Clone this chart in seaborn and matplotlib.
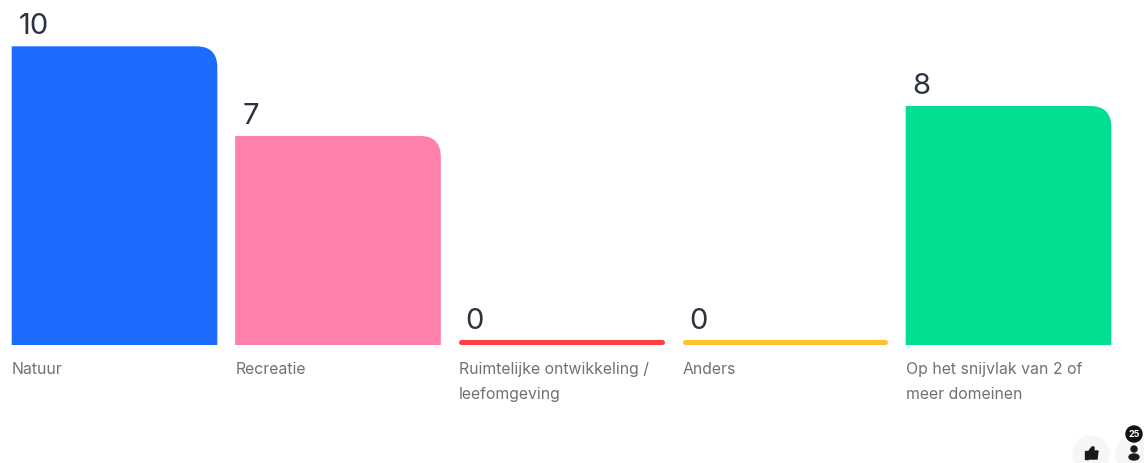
import pandas as pd
import matplotlib.pyplot as plt
import seaborn as sns
from matplotlib.path import Path
from matplotlib.patches import PathPatch, Circle, Ellipse, Polygon, Rectangle
from matplotlib.transforms import IdentityTransform, offset_copy

sns.set_theme(style="white")
plt.rcParams['font.family'] = ['Inter', 'DejaVu Sans']

categorias = ['Natuur', 'Recreatie', 'Ruimtelijke ontwikkeling /\nleefomgeving', 'Anders',
              'Op het snijvlak van 2 of\nmeer domeinen']
valores = [10, 7, 0, 0, 8]
colores = ['#1e6bff', '#ff80ab', '#ff3f40', '#ffc130', '#00df90']
respuestas = '25'

ANCHO, ALTO = 1144, 463
PX_X = 223.5    # pixeles entre categorias
PX_Y = 29.87    # pixeles por unidad
BASE = 345      # linea base en pixeles desde arriba
RADIO = 21


def px(x, y):
    # pixeles de la imagen (origen arriba) a pixeles de la figura
    return x, ALTO - y


df = pd.DataFrame({'categoria': categorias, 'valor': valores})

fig = plt.figure(figsize=(ANCHO / 100, ALTO / 100), dpi=100)
ax = fig.add_axes([0, 0, 1, 1])
sns.barplot(data=df, x='categoria', y='valor', hue='categoria', palette=colores,
            width=0.92, legend=False, saturation=1, ax=ax)

ax.set_xlim(-114.5 / PX_X, (ANCHO - 114.5) / PX_X)
ax.set_ylim(-(ALTO - BASE) / PX_Y, BASE / PX_Y)
ax.axis('off')

# Sustituir las barras por versiones con la esquina superior derecha redondeada
rx, ry = RADIO / PX_X, RADIO / PX_Y
linea = offset_copy(ax.transData, fig=fig, y=3.5, units='dots')
for barra, valor, nombre in zip(list(ax.patches), valores, categorias):
    x0, w, color = barra.get_x(), barra.get_width(), barra.get_facecolor()
    barra.remove()
    if valor > 0:
        x1 = x0 + w
        verts = [(x0, 0), (x0, valor), (x1 - rx, valor), (x1, valor), (x1, valor - ry), (x1, 0), (x0, 0)]
        codes = [Path.MOVETO, Path.LINETO, Path.LINETO, Path.CURVE3, Path.CURVE3, Path.LINETO, Path.CLOSEPOLY]
        ax.add_patch(PathPatch(Path(verts, codes), facecolor=color, edgecolor='none'))
    else:
        ax.plot([x0 + 2.5 / PX_X, x0 + w - 2.5 / PX_X], [valor, valor], color=color, lw=3.6,
                solid_capstyle='round', transform=linea)

    alto_barra = 4 if valor == 0 else 0
    ax.annotate(str(valor), (x0, valor), xytext=(7, 6 + alto_barra), textcoords='offset pixels',
                fontsize=21, color='#2d3142', ha='left', va='bottom')
    ax.annotate(nombre, (x0, 0), xytext=(0, -17), textcoords='offset pixels', fontsize=11.4,
                color='#6f7177', ha='left', va='top', linespacing=1.82)

# Iconos de la esquina inferior derecha
t = IdentityTransform()
fig.add_artist(Circle(px(1091, 454), 18, transform=t, color='#f6f6f6'))
fig.add_artist(Circle(px(1134, 454), 18, transform=t, color='#f6f6f6'))
fig.add_artist(Rectangle(px(1085, 459), 3, 8, transform=t, color='#1a1a1a'))
fig.add_artist(Polygon([px(1089, 459), px(1089, 451), px(1092, 447), px(1094, 447), px(1094, 451),
                        px(1098, 451), px(1097, 459)], transform=t, color='#1a1a1a'))
fig.add_artist(Circle(px(1134, 449), 3, transform=t, color='#1a1a1a'))
fig.add_artist(Ellipse(px(1134, 457), 10, 6, transform=t, color='#1a1a1a'))
fig.add_artist(Circle(px(1134, 434), 8, transform=t, color='#111111'))
fig.text(1134 / ANCHO, 1 - 434.5 / ALTO, respuestas, color='white', fontsize=6.5, fontweight='bold',
         ha='center', va='center')

fig.savefig('out.png', dpi=100)
